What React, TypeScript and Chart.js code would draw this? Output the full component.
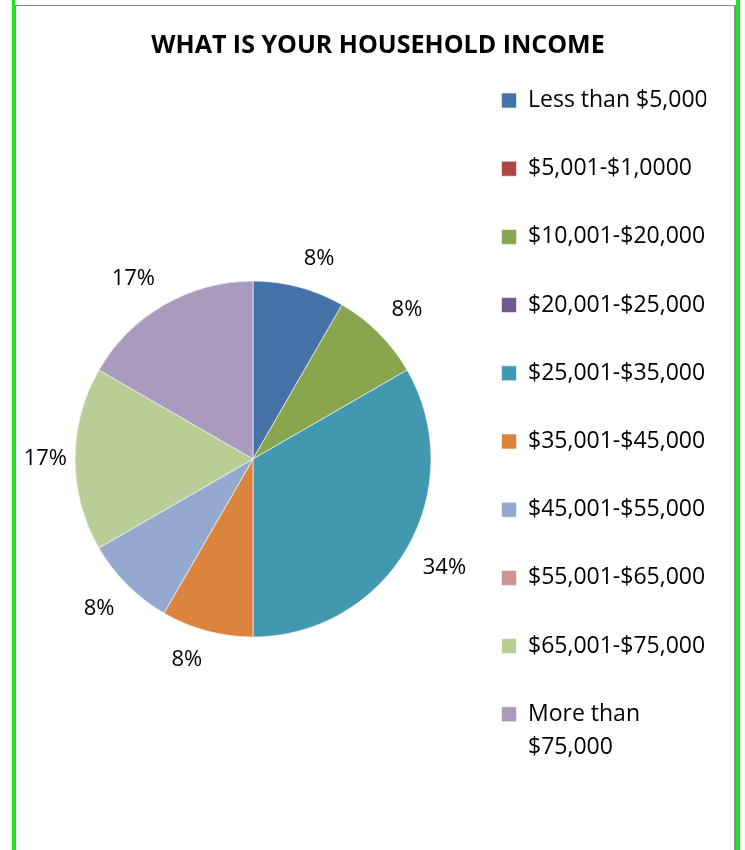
import React, { useEffect, useRef } from 'react';
import { Chart, registerables } from 'chart.js';

Chart.register(...registerables);

const chartTitle = 'WHAT IS YOUR HOUSEHOLD INCOME';

const categories: (string | string[])[] = [
  'Less than $5,000',
  '$5,001-$1,0000',
  '$10,001-$20,000',
  '$20,001-$25,000',
  '$25,001-$35,000',
  '$35,001-$45,000',
  '$45,001-$55,000',
  '$55,001-$65,000',
  '$65,001-$75,000',
  ['More than', '$75,000'],
];

const responses = [1, 0, 1, 0, 4, 1, 1, 0, 2, 2];

const percentLabels = ['8%', '0%', '8%', '0%', '34%', '8%', '8%', '0%', '17%', '17%'];

const sliceColors = [
  '#4572A7',
  '#AA4643',
  '#89A54E',
  '#71588F',
  '#4198AF',
  '#DB843D',
  '#93A9CF',
  '#D19392',
  '#B9CD96',
  '#A99BBD',
];

const FONT = '"Open Sans", sans-serif';

const outsideLabels = {
  id: 'outsideLabels',
  afterDatasetsDraw(chart: any) {
    const ctx = chart.ctx;
    const meta = chart.getDatasetMeta(0);
    ctx.save();
    ctx.font = `22px ${FONT}`;
    ctx.fillStyle = '#000000';
    ctx.textAlign = 'center';
    ctx.textBaseline = 'middle';
    meta.data.forEach((arc: any, i: number) => {
      if (!responses[i]) return;
      const { x, y, startAngle, endAngle, outerRadius } = arc.getProps(
        ['x', 'y', 'startAngle', 'endAngle', 'outerRadius'],
        true
      );
      const mid = (startAngle + endAngle) / 2;
      const c = Math.cos(mid);
      const s = Math.sin(mid);
      const r = outerRadius + 18;
      const ax = x + c * r;
      const ay = y + s * r;
      const text = percentLabels[i];
      const w = ctx.measureText(text).width;
      const h = 22;
      const sx = Math.abs(c) < 0.1 ? 0 : Math.sign(c);
      const sy = Math.abs(s) < 0.1 ? 0 : Math.sign(s);
      const shrink = sy === 0 ? 10 : 0;
      ctx.fillText(text, ax + (sx * w) / 2 - sx * shrink, ay + (sy * h) / 2);
    });
    ctx.restore();
  },
};

export default function App() {
  const canvasRef = useRef<HTMLCanvasElement | null>(null);

  useEffect(() => {
    const canvas = canvasRef.current;
    if (!canvas) return;
    const chart = new Chart(canvas, {
      type: 'pie',
      data: {
        labels: categories as any,
        datasets: [
          {
            data: responses,
            backgroundColor: sliceColors,
            borderColor: '#ffffff',
            borderWidth: 0.6,
          },
        ],
      },
      options: {
        responsive: false,
        animation: false,
        radius: 178,
        layout: { padding: { left: 49.7, right: 38.7, top: 0, bottom: 0 } },
        plugins: {
          title: {
            display: true,
            text: chartTitle,
            color: '#000000',
            font: { family: FONT, size: 25, weight: 'bold', lineHeight: 1.2 },
            padding: { top: 31, bottom: 7 },
          },
          legend: {
            position: 'right',
            align: 'start',
            maxWidth: 250,
            title: {
              display: true,
              text: '',
              padding: { top: 0, bottom: 42.8 },
              font: { size: 1, lineHeight: 1 },
            },
            labels: {
              boxWidth: 15,
              boxHeight: 15,
              padding: 45.2,
              color: '#000000',
              font: { family: FONT, size: 23, lineHeight: 1.42 },
            },
          },
          tooltip: { enabled: false },
        },
      } as any,
      plugins: [outsideLabels],
    });
    return () => chart.destroy();
  }, []);

  return (
    <div style={{ position: 'absolute', left: 0, top: 0, width: 745, height: 850, background: '#ffffff', overflow: 'hidden' }}>
      <canvas ref={canvasRef} width={745} height={850} style={{ position: 'absolute', left: 0, top: 0, width: 745, height: 850 }} />
      <div style={{ position: 'absolute', left: 12, top: 0, width: 3, height: 850, background: '#1EE61E' }} />
      <div style={{ position: 'absolute', left: 15, top: 5, width: 1, height: 845, background: '#8C8C8C' }} />
      <div style={{ position: 'absolute', left: 15, top: 5, width: 721, height: 1, background: '#8C8C8C' }} />
      <div style={{ position: 'absolute', left: 734, top: 5, width: 2, height: 845, background: '#8C8C8C' }} />
      <div style={{ position: 'absolute', left: 736, top: 0, width: 4, height: 850, background: '#1EE61E' }} />
    </div>
  );
}
